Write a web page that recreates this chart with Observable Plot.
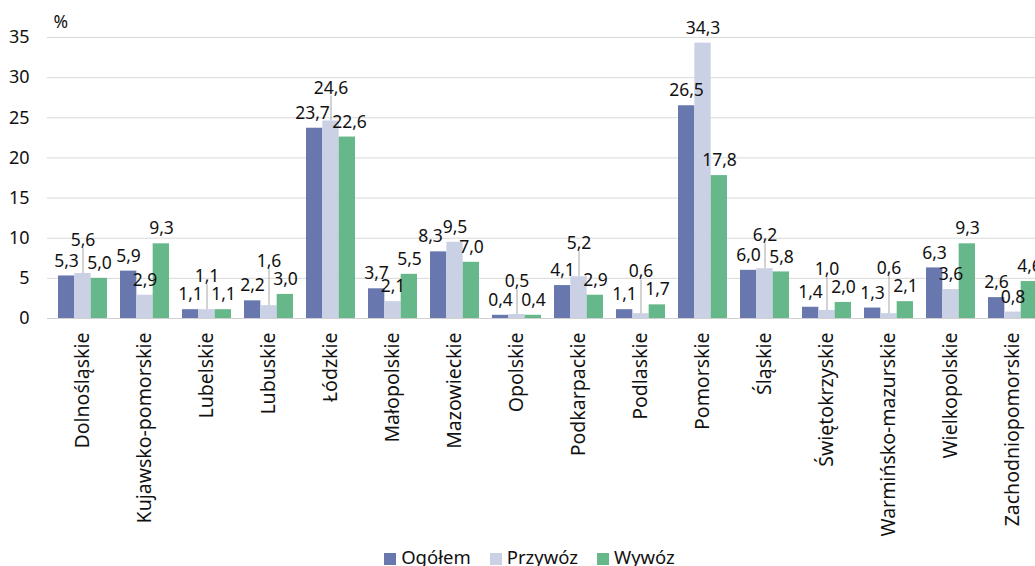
<!DOCTYPE html>
<html>
<head>
<meta charset="utf-8">
<script src="https://cdn.jsdelivr.net/npm/d3@7"></script>
<script src="https://cdn.jsdelivr.net/npm/@observablehq/plot@0.6"></script>
<style>
  html, body { margin: 0; padding: 0; background: #fff; overflow: hidden; width: 1035px; }
  #chart svg { max-width: none !important; display: block; }
  .legend { display: flex; justify-content: center; align-items: center; gap: 19px; margin-top: 4px;
    font-family: "Noto Sans", sans-serif; font-size: 18.5px; color: #111; height: 22px; line-height: 22px;
    width: 1047px; padding-left: 12px; box-sizing: border-box; }
  .legend span.sw { display: inline-block; width: 12px; height: 12px; margin-right: 5px; vertical-align: -1px; }
</style>
</head>
<body>
<div id="chart"></div>
<div class="legend" id="legend"></div>
<script>
const regions = ["Dolnośląskie","Kujawsko-pomorskie","Lubelskie","Lubuskie","Łódzkie","Małopolskie","Mazowieckie","Opolskie","Podkarpackie","Podlaskie","Pomorskie","Śląskie","Świętokrzyskie","Warmińsko-mazurskie","Wielkopolskie","Zachodniopomorskie"];
const seriesNames = ["Ogółem","Przywóz","Wywóz"];
const ogolem  = [5.3,5.9,1.1,2.2,23.7,3.7,8.3,0.4,4.1,1.1,26.5,6.0,1.4,1.3,6.3,2.6];
const przywoz = [5.6,2.9,1.1,1.6,24.6,2.1,9.5,0.5,5.2,0.6,34.3,6.2,1.0,0.6,3.6,0.8];
const wywoz   = [5.0,9.3,1.1,3.0,22.6,5.5,7.0,0.4,2.9,1.7,17.8,5.8,2.0,2.1,9.3,4.6];
const yTicks = [0,5,10,15,20,25,30,35];
const colors = ["#6878ae","#cbd1e5","#66b88a"];

const FONT = "'Noto Sans', sans-serif";
const VAL_FS = 17.5;
const TXT = "#111";
const width = 1047, height = 542, ml = 47, mr = 0, mt = 37, mb = 224;
const padIn = 0.216;
const step = (width - ml - mr) / regions.length;
const w = step * (1 - padIn) / 3;
const fmt = v => d3.format(".1f")(v).replace(".", ",");
const yScale = d3.scaleLinear([0, 35], [height - mb, mt]);

const seriesVals = [ogolem, przywoz, wywoz];
const rows = seriesVals.map((vals, s) => regions.map((r, i) => ({region: r, series: seriesNames[s], s, value: vals[i]})));

// ---- label layout (simple collision avoidance) ----
const ctx = document.createElement("canvas").getContext("2d");
ctx.font = `${VAL_FS}px 'Noto Sans'`;
const tw = t => ctx.measureText(t).width;
const GAP = 15, LIFT = 33, LH = 12;
const labels = [], leaders = [];
regions.forEach((r, i) => {
  const v = [ogolem[i], przywoz[i], wywoz[i]];
  const lifted = Math.min(Math.abs(v[1] - v[0]), Math.abs(v[1] - v[2])) < 1.15;
  const L = v.map((val, s) => ({region: r, s, value: val, text: fmt(val), cx: (s - 1) * w,
    cy: yScale(val) - GAP, width: tw(fmt(val))}));
  if (lifted) {
    L[1].cy = yScale(Math.max(...v)) - LIFT;
    leaders.push({region: r, y1: v[1], y2: yScale.invert(L[1].cy + 8)});
    if (Math.abs(L[0].cy - L[2].cy) < LH) {
      const ov = (L[0].width + L[2].width) / 2 + 2 - (L[2].cx - L[0].cx);
      if (ov > 0) { L[0].cx -= ov / 2; L[2].cx += ov / 2; }
    }
  }
  [0, 2].forEach(s => {
    if (Math.abs(L[s].cy - L[1].cy) < LH) {
      const ov = (L[s].width + L[1].width) / 2 - Math.abs(L[s].cx - L[1].cx);
      if (ov > 0) L[s].cx += (s === 0 ? -ov : ov);
    }
  });
  L.forEach(d => { d.dx = Math.round((d.cx) * 2) / 2; d.ly = yScale.invert(d.cy); labels.push(d); });
});
const dxGroups = d3.groups(labels, d => d.dx);

const plot = Plot.plot({
  width, height,
  marginLeft: ml, marginRight: mr, marginTop: mt, marginBottom: mb,
  style: {fontFamily: FONT, fontSize: "18px", color: TXT, maxWidth: "none", overflow: "visible"},
  x: {domain: regions, paddingInner: padIn, paddingOuter: padIn / 2, label: null},
  y: {domain: [0, 35], label: null},
  marks: [
    Plot.gridY(yTicks, {stroke: "#d9d9d9", strokeOpacity: 1}),
    Plot.axisY(yTicks, {tickSize: 0, tickPadding: 18, fontSize: 18, fill: TXT}),
    Plot.axisX({tickSize: 0, tickPadding: 14, tickRotate: -90, fontSize: 19.5, fill: TXT}),
    ...rows.map((data, s) => Plot.barY(data, {
      x: "region", y: "value", fill: colors[s],
      insetLeft: s * w, insetRight: (2 - s) * w
    })),
    Plot.ruleY([0], {stroke: "#cfcfcf"}),
    Plot.ruleX(leaders, {x: "region", y1: "y1", y2: "y2", stroke: "#a6a6a6", strokeWidth: 1}),
    ...dxGroups.map(([dx, data]) => Plot.text(data, {
      x: "region", y: "ly", text: "text", dx,
      lineAnchor: "middle", fill: TXT, fontSize: VAL_FS
    })),
    Plot.text(["%"], {frameAnchor: "top-left", dx: 6, dy: -15, textAnchor: "start", lineAnchor: "middle", fill: TXT, fontSize: 17.5})
  ]
});
document.getElementById("chart").appendChild(plot);

const legend = document.getElementById("legend");
seriesNames.forEach((n, i) => {
  const item = document.createElement("div");
  item.innerHTML = `<span class="sw" style="background:${colors[i]}"></span>${n}`;
  legend.appendChild(item);
});
</script>
</body>
</html>
